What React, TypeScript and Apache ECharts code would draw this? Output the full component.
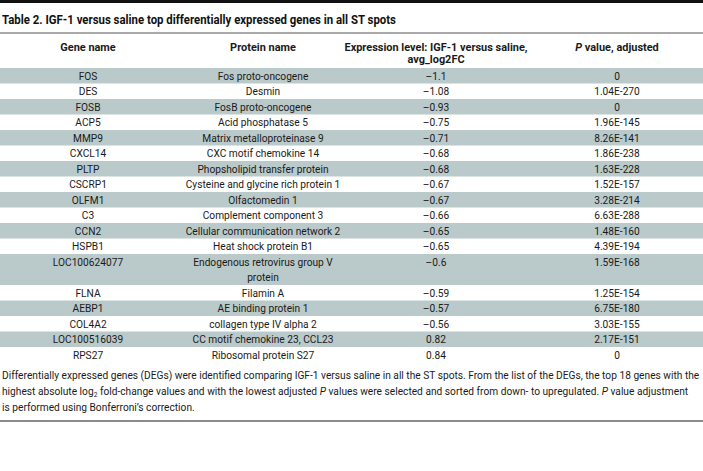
import React, { useEffect, useRef } from "react";
import * as echarts from "echarts";

const titleText = "Table 2. IGF-1 versus saline top differentially expressed genes in all ST spots";
const headers = ["Gene name", "Protein name", "Expression level: IGF-1 versus saline,\navg_log2FC", "{i|P} value, adjusted"];
const genes = ["FOS", "DES", "FOSB", "ACP5", "MMP9", "CXCL14", "PLTP", "CSCRP1", "OLFM1", "C3", "CCN2", "HSPB1", "LOC100624077", "FLNA", "AEBP1", "COL4A2", "LOC100516039", "RPS27"];
const proteins = [
  "Fos proto-oncogene", "Desmin", "FosB proto-oncogene", "Acid phosphatase 5", "Matrix metalloproteinase 9",
  "CXC motif chemokine 14", "Phopsholipid transfer protein", "Cysteine and glycine rich protein 1", "Olfactomedin 1",
  "Complement component 3", "Cellular communication network 2", "Heat shock protein B1",
  "Endogenous retrovirus group V\nprotein", "Filamin A", "AE binding protein 1", "collagen type IV alpha 2",
  "CC motif chemokine 23, CCL23", "Ribosomal protein S27",
];
const log2fc = [-1.1, -1.08, -0.93, -0.75, -0.71, -0.68, -0.68, -0.67, -0.67, -0.66, -0.65, -0.65, -0.6, -0.59, -0.57, -0.56, 0.82, 0.84];
const pvalues = ["0", "1.04E-270", "0", "1.96E-145", "8.26E-141", "1.86E-238", "1.63E-228", "1.52E-157", "3.28E-214", "6.63E-288", "1.48E-160", "4.39E-194", "1.59E-168", "1.25E-154", "6.75E-180", "3.03E-155", "2.17E-151", "0"];
const footnote = [
  "Differentially expressed genes (DEGs) were identified comparing IGF-1 versus saline in all the ST spots. From the list of the DEGs, the top 18 genes with the",
  "highest absolute log{sub|2} fold-change values and with the lowest adjusted {i|P} values were selected and sorted from down- to upregulated. {i|P} value adjustment",
  "is performed using Bonferroni\u2019s correction.",
];

const W = 703;
const H = 471;
const FONT = "Roboto, 'Noto Sans', sans-serif";
const colX = [88, 263, 436, 617];
const ROW_Y0 = 68;
const ROW_H = 15.5;
const GRAY = "#bac9c9";
const TXT = "#1a1a1a";
const FS = 11.5; // body font size
const FS_H = 11.5; // header font size
const FS_T = 12.5; // title font size
// target widths (px) used to condense the fonts to the reference's condensed face
const TARGET_FOOT = 698;
const TARGET_TITLE = 395;
const TARGET_HEAD = 183;

function fmt(v: number) {
  return v < 0 ? "\u2013" + String(-v) : String(v);
}

function measure(text: string, size: number, weight: string) {
  const c = document.createElement("canvas").getContext("2d")!;
  c.font = `${weight} ${size}px ${FONT}`;
  return c.measureText(text).width;
}

export default function App() {
  const ref = useRef<HTMLDivElement>(null);
  useEffect(() => {
    document.body.style.margin = "0";
    const chart = echarts.init(ref.current!, null, { renderer: "svg" });
    const sReg = TARGET_FOOT / measure(footnote[0], FS, "normal");
    const sTitle = TARGET_TITLE / measure(titleText, FS_T, "bold");
    const sHead = TARGET_HEAD / measure("Expression level: IGF-1 versus saline,", FS_H, "bold");
    const els: any[] = [];
    els.push({ type: "rect", shape: { x: 0, y: 0, width: W, height: 3 }, style: { fill: "#111" } });
    els.push({
      type: "text", x: 2, y: 20, scaleX: sTitle,
      style: { text: titleText, fontFamily: FONT, fontSize: FS_T, fontWeight: "bold", fill: "#111", align: "left", verticalAlign: "middle" },
    });
    els.push({ type: "line", shape: { x1: 0, y1: 33, x2: W, y2: 33 }, style: { stroke: "#555", lineWidth: 1 } });
    headers.forEach((h, c) => {
      els.push({
        type: "text", x: colX[c], y: 41, scaleX: sHead,
        style: {
          text: h, fontFamily: FONT, fontSize: FS_H, fontWeight: "bold", fill: TXT, align: "center", verticalAlign: "top", lineHeight: 12.5,
          rich: { i: { fontFamily: FONT, fontSize: FS_H, fontWeight: "bold", fontStyle: "italic", fill: TXT, lineHeight: 12.5 } },
        },
      });
    });
    let y = ROW_Y0;
    genes.forEach((g, i) => {
      const lines = proteins[i].split("\n").length;
      const h = ROW_H * lines;
      if (i % 2 === 0) {
        els.push({ type: "rect", shape: { x: 0, y, width: W, height: h }, style: { fill: GRAY } });
      }
      const cells = [g, proteins[i], fmt(log2fc[i]), pvalues[i]];
      cells.forEach((t, c) => {
        els.push({
          type: "text", x: colX[c], y: y + 0.5, scaleX: sReg,
          style: { text: t, fontFamily: FONT, fontSize: FS, fill: TXT, align: "center", verticalAlign: "top", lineHeight: 15 },
        });
      });
      y += h;
    });
    footnote.forEach((t, k) => {
      els.push({
        type: "text", x: 2, y: 375 + k * 16, scaleX: sReg,
        style: {
          text: t, fontFamily: FONT, fontSize: FS, fill: TXT, align: "left", verticalAlign: "middle",
          rich: {
            i: { fontFamily: FONT, fontSize: FS, fontStyle: "italic", fill: TXT },
            sub: { fontFamily: FONT, fontSize: 7.5, fill: TXT, padding: [7, 0, 0, 0] },
          },
        },
      });
    });
    els.push({ type: "line", shape: { x1: 0, y1: 421, x2: W, y2: 421 }, style: { stroke: "#666", lineWidth: 1.5 } });
    chart.setOption({ animation: false, graphic: { elements: els } });
    return () => chart.dispose();
  }, []);
  return <div ref={ref} style={{ width: W, height: H, background: "#fff" }} />;
}
